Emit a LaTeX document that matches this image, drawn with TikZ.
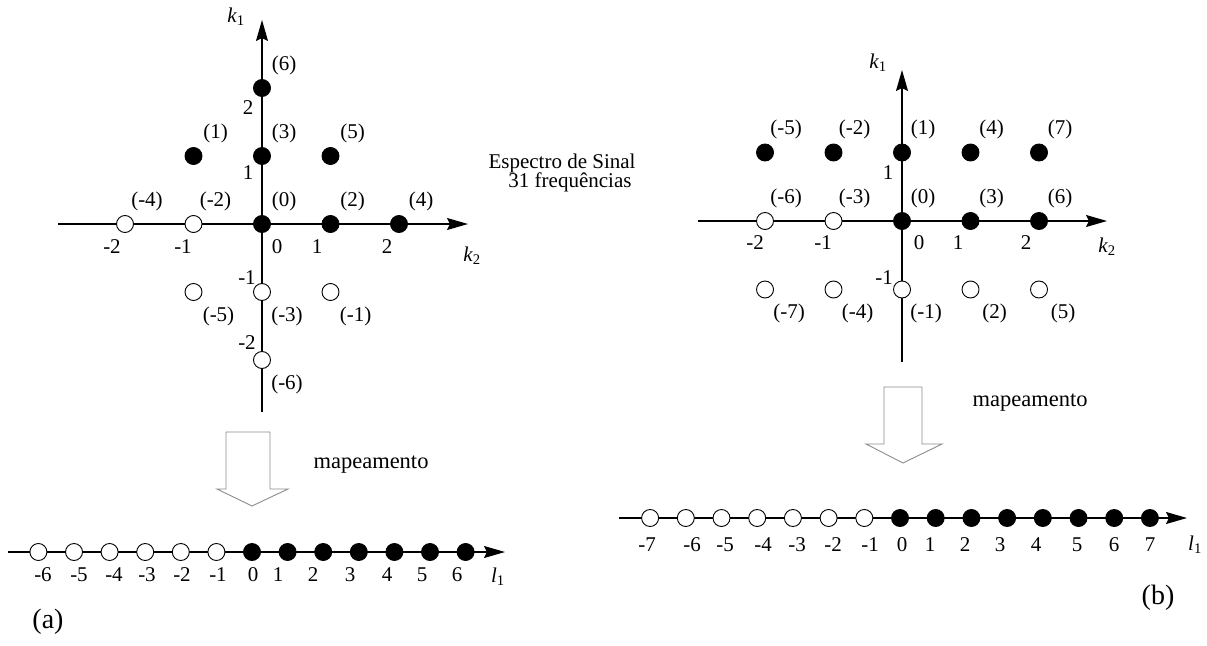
\documentclass[tikz,border=0pt]{standalone}
\usepackage{fontspec}
\setmainfont{Liberation Serif}
\usetikzlibrary{arrows.meta}
\definecolor{ink}{HTML}{000000}
\definecolor{hollowgray}{HTML}{8C8C8C}
\newcommand{\axname}[2]{\textit{#1}\textsubscript{#2}}

\begin{document}
\begin{tikzpicture}[
  x=1pt, y=-1pt,
  font=\fontsize{21}{24}\selectfont,
  on/.style={circle,draw=ink,fill=ink,minimum size=17pt,inner sep=0pt,line width=0.9pt},
  off/.style={on,fill=white},
  axis/.style={draw=ink,line width=1.3pt,-{Stealth[length=21pt,width=12pt,inset=3pt]}},
  lbl/.style={inner sep=0pt},
  lblup/.style={lbl,xshift=22pt,yshift=23pt},
  lbldn/.style={lbl,xshift=25pt,yshift=-24pt},
  hollow/.style={draw=hollowgray,line width=0.9pt,fill=white},
]
\useasboundingbox (0,0) rectangle (1207,645);

% --- (a): 2-D grid ---------------------------------------------------------
\coordinate (a-top) at (262,20);
\coordinate (a-bot) at (262,412);
\coordinate (a-lft) at (58,224);
\coordinate (a-rgt) at (468,224);
\draw[axis] (a-bot) -- (a-top);
\draw[axis] (a-lft) -- (a-rgt);
\node[lbl] (a-k1) at (236,17)  {\axname{k}{1}};
\node[lbl] (a-k2) at (472,256) {\axname{k}{2}};

\foreach \u/\v/\n/\s/\p in {0/0/0/on/lblup, 1/0/2/on/lblup, 2/0/4/on/lblup,
    -1/0/-2/off/lblup, -2/0/-4/off/lblup, -1/1/1/on/lblup, 0/1/3/on/lblup,
    1/1/5/on/lblup, 0/2/6/on/lblup, -1/-1/-5/off/lbldn, 0/-1/-3/off/lbldn,
    1/-1/-1/off/lbldn, 0/-2/-6/off/lbldn}{
  \node[\s] (a\n) at ({262+68.5*\u},{224-68*\v}) {};
  \node[\p] at (a\n) {(\n)};
}

\foreach \t/\x/\y in {-2/112/247, -1/183/247, 0/277/247, 1/317/247, 2/387/247,
    2/248/108, 1/248/173, -1/247/278, -2/247/343}
  \node[lbl] at (\x,\y) {\t};

% --- (a): mapping onto l1 ---------------------------------------------------
\draw[hollow] (226,432) -- (270,432) -- (270,489) -- (288,489) -- (252,506)
  -- (217,489) -- (226,489) -- cycle;
\node[lbl,font=\fontsize{22.5}{24}\selectfont] (a-map) at (371,465) {mapeamento};

\coordinate (la-start) at (8,552);
\coordinate (la-end) at (505,552);
\draw[axis] (la-start) -- (la-end);
\foreach \n/\x in {-6/43,-5/79,-4/114,-3/147,-2/182,-1/218,0/253,
    1/278,2/313,3/350,4/387,5/422,6/457}{
  \ifnum\n<0 \def\s{off}\else\def\s{on}\fi
  \node[\s] (la\n) at ({252+35.6*\n},552) {};
  \node[lbl] at (\x,575) {\n};
}
\node[lbl] (la-l1) at (498,577) {\axname{l}{1}};
\node[lbl,font=\fontsize{28}{30}\selectfont] (cap-a) at (48,622) {(a)};

% --- centre caption --------------------------------------------------------
\node[lbl] (spec) at (562,163) {Espectro de Sinal};
\node[lbl] (freq) at (570,182) {31 frequências};

% --- (b): 2-D grid ---------------------------------------------------------
\coordinate (b-top) at (902,70);
\coordinate (b-bot) at (902,362);
\coordinate (b-lft) at (698,221);
\coordinate (b-rgt) at (1107,221);
\draw[axis] (b-bot) -- (b-top);
\draw[axis] (b-lft) -- (b-rgt);
\node[lbl] (b-k1) at (878,63)  {\axname{k}{1}};
\node[lbl] (b-k2) at (1107,247) {\axname{k}{2}};

% top row filled, bottom row open, middle row filled from k2 = 0 on
\foreach \u in {-2,...,2}{
  \foreach \v in {-1,0,1}{
    \pgfmathtruncatemacro\n{3*\u+\v}
    \pgfmathtruncatemacro\f{(\v>0) || (\v==0 && \u>=0)}
    \ifnum\f=1 \def\s{on}\else\def\s{off}\fi
    \ifnum\v<0 \def\p{lbldn}\else\def\p{lblup}\fi
    \node[\s] (b\n) at ({902+68.5*\u},{221-68.5*\v}) {};
    \node[\p,xshift=-1pt] at (b\n) {(\n)};
  }
}

\foreach \t/\x/\y in {-2/755/243, -1/823/243, 0/919/243, 1/958/243, 2/1026/243,
    1/888/173, -1/884/278}
  \node[lbl] at (\x,\y) {\t};

% --- (b): mapping onto l1 ---------------------------------------------------
\draw[hollow] (884,387) -- (922,387) -- (922,444) -- (942,444) -- (903,463)
  -- (866,444) -- (884,444) -- cycle;
\node[lbl,font=\fontsize{22.5}{24}\selectfont] (b-map) at (1030,403) {mapeamento};

\coordinate (lb-start) at (619,518);
\coordinate (lb-end) at (1187,518);
\draw[axis] (lb-start) -- (lb-end);
\foreach \n/\x in {-7/647,-6/692,-5/725,-4/763,-3/797,-2/833,-1/870,0/902,
    1/930,2/965,3/1000,4/1036,5/1077,6/1114,7/1150}{
  \ifnum\n<0 \def\s{off}\else\def\s{on}\fi
  \node[\s] (lb\n) at ({900+35.7*\n},518) {};
  \node[lbl] at (\x,545) {\n};
}
\node[lbl] (lb-l1) at (1195,545) {\axname{l}{1}};
\node[lbl,font=\fontsize{28}{30}\selectfont] (cap-b) at (1158,598) {(b)};
\end{tikzpicture}
\end{document}
